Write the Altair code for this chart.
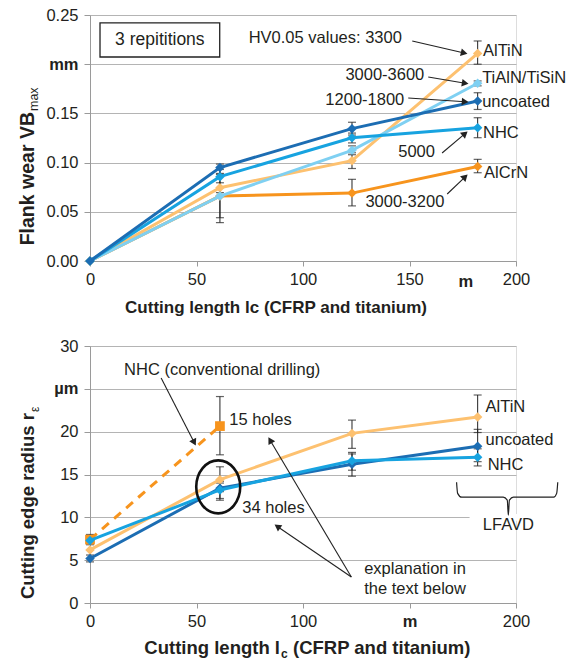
import math
import altair as alt
import pandas as pd

FONT = "Liberation Sans"
TXT = "#231f20"
GRID = "#b4b4b4"
AX = "#9a9a9a"

# ------------------------------------------------------------------ data
x_pos = [0, 61, 123, 182]

# top chart: flank wear VBmax (mm)
vb_series = ["AlCrN", "AlTiN", "TiAlN/TiSiN", "NHC", "uncoated"]
vb_colors = ["#f7941d", "#fdc170", "#7fd0f2", "#17a3e0", "#1c6db3"]
vb_alcrn = [0.0, 0.066, 0.069, 0.096]
vb_altin = [0.0, 0.0745, 0.102, 0.211]
vb_tialn = [0.0, 0.066, 0.1125, 0.1806]
vb_nhc = [0.0, 0.0857, 0.1253, 0.1355]
vb_uncoated = [0.0, 0.095, 0.1345, 0.1626]
vb_values = [vb_alcrn, vb_altin, vb_tialn, vb_nhc, vb_uncoated]

vb_err_x = [61, 61, 61, 61, 123, 123, 123, 123, 123, 182, 182, 182, 182, 182]
vb_err_lo = [0.089, 0.0695, 0.044, 0.039, 0.128, 0.120, 0.094, 0.108, 0.056, 0.200, 0.154, 0.1253, 0.0897, 0.178]
vb_err_hi = [0.0985, 0.0795, 0.088, 0.093, 0.141, 0.130, 0.110, 0.117, 0.083, 0.2236, 0.171, 0.1456, 0.1033, 0.183]

# bottom chart: cutting edge radius (um)
r_series = ["AlTiN", "uncoated", "NHC"]
r_colors = ["#fdc170", "#1c6db3", "#17a3e0"]
r_altin = [6.2, 14.4, 19.8, 21.7]
r_uncoated = [5.2, 13.4, 16.2, 18.3]
r_nhc = [7.3, 13.2, 16.6, 17.0]
r_values = [r_altin, r_uncoated, r_nhc]
conv_x = [0, 61]
r_nhc_conv = [7.4, 20.65]

r_err_x = [0, 0, 61, 61, 61, 61, 123, 123, 123, 182, 182, 182]
r_err_lo = [6.8, 4.8, 17.3, 13.0, 12.0, 12.2, 18.05, 14.8, 15.5, 19.9, 16.5, 16.0]
r_err_hi = [8.0, 5.6, 24.1, 15.9, 14.2, 14.0, 21.35, 17.58, 17.4, 24.28, 20.27, 18.0]

# annotations (data coordinates)
top_left_text = ["HV0.05 values: 3300", "3000-3600", "1200-1800", "5000", "3000-3200",
                 "AlTiN", "TiAlN/TiSiN", "uncoated", "NHC", "AlCrN"]
top_left_x = [74.5, 119.9, 110.5, 144.7, 129.3, 184.5, 184.1, 184.1, 184.5, 185.0]
top_left_y = [0.2269, 0.189, 0.1633, 0.1108, 0.060, 0.2134, 0.186, 0.1619, 0.130, 0.0894]

top_arrow_x1 = [151.3, 158.8, 149.4, 165.3, 167.7]
top_arrow_y1 = [0.2236, 0.187, 0.1657, 0.1098, 0.0681]
top_arrow_x2 = [177.5, 178.0, 178.0, 177.5, 177.5]
top_arrow_y2 = [0.2104, 0.1799, 0.1616, 0.1321, 0.0884]

bot_left_text = ["NHC (conventional drilling)", "15 holes", "34 holes", "explanation in",
                 "the text below", "AlTiN", "uncoated", "NHC"]
bot_left_x = [16.0, 65.4, 71.5, 128.7, 128.7, 185.7, 185.7, 186.7]
bot_left_y = [27.2, 21.35, 11.1, 4.02, 1.68, 22.84, 19.0, 16.1]

bot_arrow_x1 = [33.4, 122.7, 122.7]
bot_arrow_y1 = [26.26, 3.04, 3.04]
bot_arrow_x2 = [49.8, 83.6, 86.4]
bot_arrow_y2 = [18.31, 19.4, 9.2]

brace_x = [172.1, 172.6, 174.5, 194.0, 195.9, 196.4, 196.9, 198.8, 217.7, 219.1, 219.6]
brace_y = [14.1, 12.8, 12.35, 12.35, 12.0, 10.25, 12.0, 12.35, 12.35, 12.8, 14.1]

W = 426
H_TOP = 246
H_BOT = 257


def axis_x(values, label_expr=None, weight=None):
    kw = dict(values=values, grid=False, title=None, labelFont=FONT, labelFontSize=16.5,
              labelColor=TXT, labelPadding=5, tickSize=5, tickColor=AX, domainColor=AX,
              labelFlush=False)
    if label_expr:
        kw["labelExpr"] = label_expr
    if weight:
        kw["labelFontWeight"] = weight
    return alt.Axis(**kw)


def axis_y(values, label_expr, weight):
    return alt.Axis(values=values, grid=True, gridColor=GRID, gridWidth=1.2, title=None,
                    labelFont=FONT, labelFontSize=16.5, labelColor=TXT, labelPadding=6,
                    tickSize=6, tickColor=AX, domainColor=AX, labelExpr=label_expr,
                    labelFontWeight=weight)


def arrows(x1, y1, x2, y2, sx, sy):
    rows = []
    heads = []
    for a, b, c, d in zip(x1, y1, x2, y2):
        dxp = (c - a) * sx
        dyp = -(d - b) * sy
        n = math.hypot(dxp, dyp)
        ang = math.degrees(math.atan2(dxp, -dyp)) % 360
        back = 4.0
        hx = c - dxp / n * back / sx
        hy = d + dyp / n * back / sy
        rows.append(dict(x1=a, y1=b, x2=hx, y2=hy))
        heads.append(dict(x=hx, y=hy, ang=ang))
    return pd.DataFrame(rows), pd.DataFrame(heads)


# ================================================================== TOP
xs_t = alt.Scale(domain=[0, 200], nice=False, zero=False)
ys_t = alt.Scale(domain=[0, 0.25], nice=False)
xax_t = axis_x([0, 50, 100, 150, 200])
yax_t = axis_y([0, 0.05, 0.1, 0.15, 0.2, 0.25],
               "abs(datum.value-0.2)<0.001 ? 'mm' : format(datum.value, '.2f')",
               {"condition": {"test": "abs(datum.value-0.2)<0.001", "value": "bold"},
                "value": "normal"})


def XT(f):
    return alt.X(f, type="quantitative", scale=xs_t, axis=xax_t)


def YT(f):
    return alt.Y(f, type="quantitative", scale=ys_t, axis=yax_t)


err_t = pd.DataFrame(dict(x=vb_err_x, lo=vb_err_lo, hi=vb_err_hi))
layers_t = [
    alt.Chart(err_t).mark_rule(color="#222", strokeWidth=1).encode(x=XT("x"), y=YT("lo"), y2="hi"),
    alt.Chart(err_t).mark_tick(color="#222", orient="horizontal", size=8, thickness=1.2).encode(x=XT("x"), y=YT("lo")),
    alt.Chart(err_t).mark_tick(color="#222", orient="horizontal", size=8, thickness=1.2).encode(x=XT("x"), y=YT("hi")),
]
for s, col, vals in zip(vb_series, vb_colors, vb_values):
    d = pd.DataFrame(dict(x=x_pos, y=vals))
    layers_t.append(alt.Chart(d).mark_line(color=col, strokeWidth=3).encode(x=XT("x"), y=YT("y")))
    layers_t.append(alt.Chart(d).mark_point(shape="diamond", filled=True, opacity=1, color=col, size=90)
                    .encode(x=XT("x"), y=YT("y")))

box = pd.DataFrame(dict(x=[4.7], x2=[60.9], y=[0.2073], y2=[0.2419]))
layers_t.append(alt.Chart(box).mark_rect(fill="white", stroke="#222", strokeWidth=1.3)
                .encode(x=XT("x"), x2="x2", y=YT("y"), y2="y2"))
layers_t.append(alt.Chart(pd.DataFrame(dict(x=[32.8], y=[0.2246], t=["3 repititions"])))
                .mark_text(font=FONT, fontSize=17.5, color=TXT, align="center", baseline="middle")
                .encode(x=XT("x"), y=YT("y"), text="t:N"))

ar_t, hd_t = arrows(top_arrow_x1, top_arrow_y1, top_arrow_x2, top_arrow_y2, W / 200, H_TOP / 0.25)
layers_t.append(alt.Chart(ar_t).mark_rule(color="#222", strokeWidth=1.1)
                .encode(x=XT("x1"), y=YT("y1"), x2="x2", y2="y2"))
layers_t.append(alt.Chart(hd_t).mark_point(shape="triangle-up", filled=True, opacity=1, color="#222", size=60)
                .encode(x=XT("x"), y=YT("y"), angle=alt.Angle("ang:Q", scale=None)))

tl = pd.DataFrame(dict(x=top_left_x, y=top_left_y, t=top_left_text))
layers_t.append(alt.Chart(tl).mark_text(font=FONT, fontSize=16.5, color=TXT, align="left", baseline="middle")
                .encode(x=XT("x"), y=YT("y"), text="t:N"))

# axis decorations: 'm' unit label, titles
layers_t.append(alt.Chart(pd.DataFrame(dict(x=[176.5], t=["m"])))
                .mark_text(font=FONT, fontSize=16.5, fontWeight="bold", color=TXT, baseline="middle")
                .encode(x=XT("x"), y=alt.value(H_TOP + 21), text="t:N"))
layers_t.append(alt.Chart(pd.DataFrame(dict(t=["Cutting length lc (CFRP and titanium)"])))
                .mark_text(font=FONT, fontSize=17, fontWeight="bold", color=TXT, baseline="middle")
                .encode(x=alt.value(186), y=alt.value(H_TOP + 47), text="t:N"))
layers_t.append(alt.Chart(pd.DataFrame(dict(t=["Flank wear VB"])))
                .mark_text(font=FONT, fontSize=19.5, fontWeight="bold", color=TXT, angle=270,
                           align="right", baseline="alphabetic")
                .encode(x=alt.value(-56), y=alt.value(97), text="t:N"))
layers_t.append(alt.Chart(pd.DataFrame(dict(t=["max"])))
                .mark_text(font=FONT, fontSize=12.5, color=TXT, angle=270,
                           align="left", baseline="alphabetic")
                .encode(x=alt.value(-52), y=alt.value(96), text="t:N"))

top = alt.layer(*layers_t).properties(width=W, height=H_TOP)

# ================================================================== BOTTOM
xs_b = alt.Scale(domain=[0, 200], nice=False, zero=False)
ys_b = alt.Scale(domain=[0, 30], nice=False)
xax_b = axis_x([0, 50, 100, 150, 200], "datum.value == 150 ? 'm' : datum.value",
               {"condition": {"test": "datum.value == 150", "value": "bold"}, "value": "normal"})
yax_b = axis_y([0, 5, 10, 15, 20, 25, 30],
               "datum.value == 25 ? 'µm' : datum.value",
               {"condition": {"test": "datum.value == 25", "value": "bold"}, "value": "normal"})


def XB(f):
    return alt.X(f, type="quantitative", scale=xs_b, axis=xax_b)


def YB(f):
    return alt.Y(f, type="quantitative", scale=ys_b, axis=yax_b)


err_b = pd.DataFrame(dict(x=r_err_x, lo=r_err_lo, hi=r_err_hi))
layers_b = [
    alt.Chart(pd.DataFrame(dict(x=[178.2], x2=[201], y=[9.6], y2=[10.4])))
    .mark_rect(fill="white").encode(x=XB("x"), x2="x2", y=YB("y"), y2="y2"),
    alt.Chart(err_b).mark_rule(color="#222", strokeWidth=1).encode(x=XB("x"), y=YB("lo"), y2="hi"),
    alt.Chart(err_b).mark_tick(color="#222", orient="horizontal", size=8, thickness=1.2).encode(x=XB("x"), y=YB("lo")),
    alt.Chart(err_b).mark_tick(color="#222", orient="horizontal", size=8, thickness=1.2).encode(x=XB("x"), y=YB("hi")),
]
conv = pd.DataFrame(dict(x=conv_x, y=r_nhc_conv))
layers_b.append(alt.Chart(conv).mark_line(color="#f7941d", strokeWidth=3, strokeDash=[9, 7])
                .encode(x=XB("x"), y=YB("y")))
layers_b.append(alt.Chart(conv).mark_point(shape="square", filled=True, opacity=1, color="#f7941d", size=95)
                .encode(x=XB("x"), y=YB("y")))
for s, col, vals in zip(r_series, r_colors, r_values):
    d = pd.DataFrame(dict(x=x_pos, y=vals))
    layers_b.append(alt.Chart(d).mark_line(color=col, strokeWidth=3).encode(x=XB("x"), y=YB("y")))
    layers_b.append(alt.Chart(d).mark_point(shape="diamond", filled=True, opacity=1, color=col, size=90)
                    .encode(x=XB("x"), y=YB("y")))

ell = pd.DataFrame(dict(x=[60.2], y=[13.56]))
layers_b.append(alt.Chart(ell).mark_point(
    shape="M -0.83 0 A 0.83 1 0 1 0 0.83 0 A 0.83 1 0 1 0 -0.83 0 Z",
    size=2809, filled=False, color="#111", strokeWidth=2.6, opacity=1)
    .encode(x=XB("x"), y=YB("y")))

ar_b, hd_b = arrows(bot_arrow_x1, bot_arrow_y1, bot_arrow_x2, bot_arrow_y2, W / 200, H_BOT / 30)
layers_b.append(alt.Chart(ar_b).mark_rule(color="#222", strokeWidth=1.1)
                .encode(x=XB("x1"), y=YB("y1"), x2="x2", y2="y2"))
layers_b.append(alt.Chart(hd_b).mark_point(shape="triangle-up", filled=True, opacity=1, color="#222", size=60)
                .encode(x=XB("x"), y=YB("y"), angle=alt.Angle("ang:Q", scale=None)))

brace = pd.DataFrame(dict(x=brace_x, y=brace_y, i=list(range(len(brace_x)))))
layers_b.append(alt.Chart(brace).mark_line(color="#222", strokeWidth=1.2, interpolate="monotone")
                .encode(x=XB("x"), y=YB("y"), order="i:Q"))
layers_b.append(alt.Chart(pd.DataFrame(dict(x=[196.4], y=[9.08], t=["LFAVD"])))
                .mark_text(font=FONT, fontSize=16.5, color=TXT, align="center", baseline="middle")
                .encode(x=XB("x"), y=YB("y"), text="t:N"))

bl = pd.DataFrame(dict(x=bot_left_x, y=bot_left_y, t=bot_left_text))
layers_b.append(alt.Chart(bl).mark_text(font=FONT, fontSize=16.5, color=TXT, align="left", baseline="middle")
                .encode(x=XB("x"), y=YB("y"), text="t:N"))

# titles
layers_b.append(alt.Chart(pd.DataFrame(dict(t=["Cutting length l"])))
                .mark_text(font=FONT, fontSize=18.5, fontWeight="bold", color=TXT, align="right",
                           baseline="alphabetic")
                .encode(x=alt.value(190), y=alt.value(H_BOT + 51), text="t:N"))
layers_b.append(alt.Chart(pd.DataFrame(dict(t=["c"])))
                .mark_text(font=FONT, fontSize=12, fontWeight="bold", color=TXT, align="left",
                           baseline="alphabetic")
                .encode(x=alt.value(191), y=alt.value(H_BOT + 55), text="t:N"))
layers_b.append(alt.Chart(pd.DataFrame(dict(t=["(CFRP and titanium)"])))
                .mark_text(font=FONT, fontSize=18.5, fontWeight="bold", color=TXT, align="left",
                           baseline="alphabetic")
                .encode(x=alt.value(203), y=alt.value(H_BOT + 51), text="t:N"))
layers_b.append(alt.Chart(pd.DataFrame(dict(t=["Cutting edge radius r"])))
                .mark_text(font=FONT, fontSize=18.5, fontWeight="bold", color=TXT, angle=270,
                           align="right", baseline="alphabetic")
                .encode(x=alt.value(-56), y=alt.value(67), text="t:N"))
layers_b.append(alt.Chart(pd.DataFrame(dict(t=["ε"])))
                .mark_text(font=FONT, fontSize=12, color=TXT, angle=270,
                           align="left", baseline="alphabetic")
                .encode(x=alt.value(-51), y=alt.value(66), text="t:N"))

bottom = alt.layer(*layers_b).properties(width=W, height=H_BOT)

chart = alt.vconcat(top, bottom, spacing=20).properties(
    padding={"left": 17, "top": 6, "right": 0, "bottom": 0}
).configure_view(stroke="transparent").configure(background="white")

chart.save("out.html", embed_options={"renderer": "svg", "actions": False})
